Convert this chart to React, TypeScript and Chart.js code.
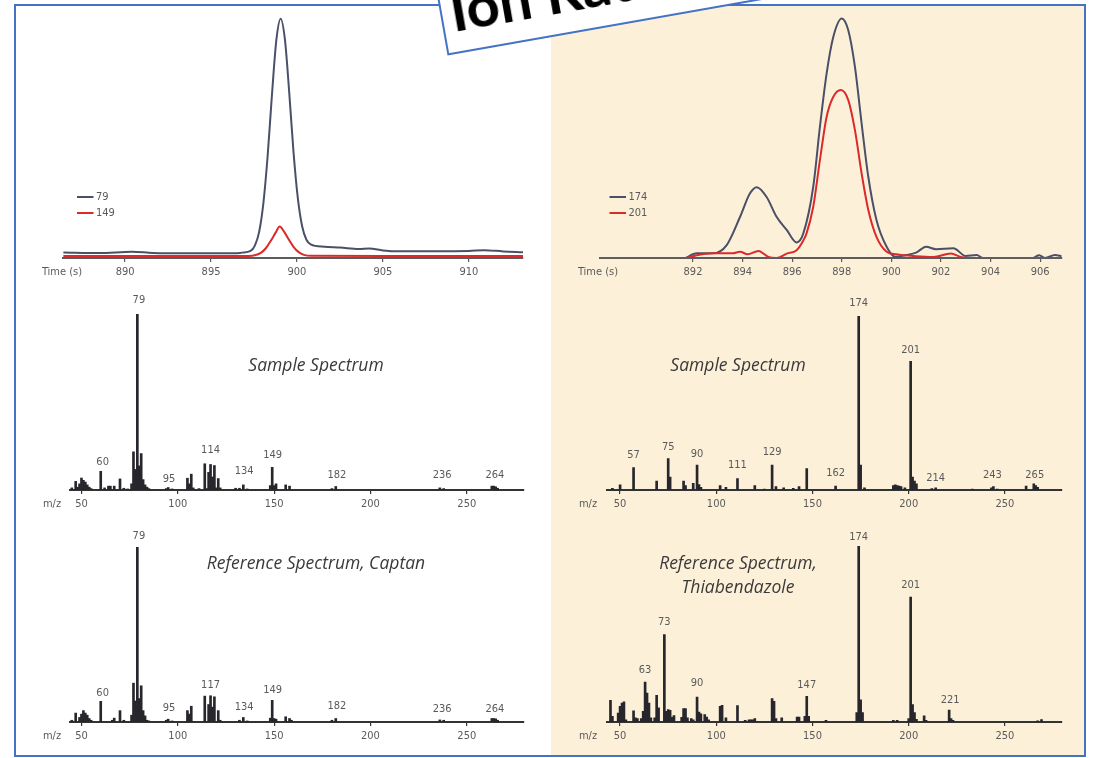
import React, { useEffect, useRef } from 'react';
import { Chart, registerables } from 'chart.js';

Chart.register(...registerables);

const AXIS_FONT = '"Liberation Sans Narrow", "DejaVu Sans Condensed", "Roboto Condensed", "Liberation Sans", sans-serif';
const TITLE_FONT = '"Open Sans", "Lato", "Liberation Sans", sans-serif';

// ---------- Chromatogram: Captan (ions 79 / 149) ----------
const captanTimeTicks = [890, 895, 900, 905, 910];
const ion79Time = [886.4, 888.5, 890.4, 891.6, 893.6, 896.4, 896.8, 897.3, 897.55, 897.8, 898.05, 898.3, 898.55, 898.8, 899.05, 899.3, 899.55, 899.8, 900.05, 900.3, 900.55, 900.8, 901.6, 902.5, 903.6, 904.2, 905.0, 905.6, 908.0, 910.0, 910.9, 912.0, 913.15];
const ion79Value = [2.3, 2.0, 2.6, 2.1, 1.9, 1.9, 2.2, 2.9, 5.1, 10.7, 22.7, 42.4, 67.4, 89.3, 98.1, 89.5, 67.8, 43.3, 24.5, 13.0, 7.5, 5.6, 4.6, 4.3, 3.7, 3.9, 3.1, 2.8, 2.8, 2.9, 3.2, 2.7, 2.4];
const ion149Time = [886.4, 890, 895, 897.2, 897.6, 897.9, 898.2, 898.5, 898.75, 899.0, 899.25, 899.5, 899.8, 900.1, 900.4, 900.8, 905, 913.15];
const ion149Value = [0.8, 0.8, 0.8, 0.8, 1.2, 2.1, 4.1, 7.3, 10.3, 12.9, 10.8, 7.9, 4.6, 2.4, 1.3, 0.9, 0.8, 0.8];

// ---------- Chromatogram: Thiabendazole (ions 174 / 201) ----------
const thiaTimeTicks = [892, 894, 896, 898, 900, 902, 904, 906];
const ion174Time = [891.7, 892.15, 892.8, 893.36, 893.9, 894.3, 894.57, 894.97, 895.37, 895.78, 896.18, 896.45, 896.85, 897.12, 897.39, 897.66, 898.0, 898.26, 898.53, 898.8, 899.07, 899.4, 899.81, 900.15, 900.6, 901.0, 901.4, 901.8, 902.5, 903.0, 903.44, 903.7, 905.7, 905.96, 906.2, 906.6, 906.87];
const ion174Value = [0, 1.9, 1.9, 5.3, 16.9, 26.5, 29.0, 25.0, 16.9, 11.5, 6.4, 10.1, 29.2, 53.8, 75.7, 90.7, 98.2, 93.4, 78.4, 55.2, 33.3, 15.6, 4.6, 0.5, 1.2, 2.2, 4.6, 3.6, 4.0, 0.8, 1.2, 0, 0, 1.1, 0, 1.2, 0.7];
const ion201Time = [888.25, 891.7, 892.15, 892.8, 893.6, 893.9, 894.2, 894.64, 895.04, 895.37, 895.78, 896.18, 896.45, 896.58, 896.85, 897.12, 897.39, 897.66, 897.96, 898.26, 898.53, 898.8, 899.07, 899.4, 899.81, 900.2, 901.0, 901.7, 902.4, 902.8, 903.1, 906.87];
const ion201Value = [0, 0, 1.1, 1.9, 1.9, 2.6, 1.5, 2.9, 0.4, 0, 1.8, 3.2, 7.2, 10.1, 21, 40.2, 57.9, 66.1, 68.9, 64.8, 52.5, 34.7, 19.7, 8.7, 2.6, 1.5, 0.7, 0.4, 1.8, 0.4, 0, 0];

// ---------- Spectra ----------
const mzTicks = [50, 100, 150, 200, 250];

const captanSampleMz = [45, 47, 48, 49, 50, 51, 52, 53, 54, 55, 60, 62, 64, 65, 67, 70, 72, 74, 76, 77, 78, 79, 80, 81, 82, 83, 84, 85, 94, 95, 97, 105, 106, 107, 108, 111, 114, 115, 116, 117, 118, 119, 120, 121, 122, 130, 132, 134, 136, 148, 149, 150, 151, 156, 158, 180, 182, 236, 238, 263, 264, 265, 266];
const captanSampleInt = [1.2, 4.9, 1.6, 3.5, 6.8, 5.5, 4.5, 2.9, 1.6, 0.8, 10.6, 1.2, 2.2, 2.2, 2.2, 6.3, 1, 0.6, 3.5, 21.7, 11.7, 100, 13.7, 20.7, 5.9, 2.9, 1.6, 0.8, 0.8, 1.4, 0.6, 6.7, 3.5, 9, 1.2, 0.8, 14.9, 0.8, 10, 14.5, 7.4, 13.9, 1.2, 6.5, 1.2, 1, 1, 2.9, 0.6, 2.5, 12.9, 2.5, 3.5, 2.9, 2.2, 0.8, 2, 1.2, 0.8, 2.2, 2.2, 1.8, 1];
const captanSampleLabels = ['79', '60', '95', '114', '134', '149', '182', '236', '264'];
const captanSampleLabelMz = [79.8, 61, 95.4, 117, 134.4, 149.2, 182.6, 237.2, 264.6];
const captanSampleLabelLevel = [108, 16.1, 6.3, 22.7, 10.8, 19.9, 8.6, 8.6, 8.6];

const captanRefMz = [45, 47, 49, 50, 51, 52, 53, 54, 55, 60, 66, 67, 70, 72, 76, 77, 78, 79, 80, 81, 82, 83, 84, 85, 94, 95, 97, 105, 106, 107, 114, 116, 117, 118, 119, 121, 122, 132, 134, 136, 148, 149, 150, 151, 156, 158, 159, 180, 182, 236, 238, 263, 264, 265, 266];
const captanRefInt = [1, 5.1, 2.6, 4.5, 6.5, 5.1, 3.9, 2, 1, 11.8, 1, 2.2, 6.5, 1, 3.9, 22.2, 12, 100, 13.4, 20.7, 6.5, 3.5, 1, 0.6, 1, 1.6, 0.6, 6.5, 4.5, 9, 14.8, 10, 15, 8.5, 14.4, 6.5, 1, 1, 2.6, 0.6, 2.2, 12.4, 2, 1.6, 3, 2, 1, 1, 2, 1.2, 1, 2, 2, 1.8, 1];
const captanRefLabels = ['79', '60', '95', '117', '134', '149', '182', '236', '264'];
const captanRefLabelMz = [79.8, 61, 95.4, 117, 134.4, 149.2, 182.6, 237.2, 264.6];
const captanRefLabelLevel = [106.3, 16.7, 8, 21.3, 8.3, 18.1, 9.3, 7.3, 7.3];

const thiaSampleMz = [46, 50, 57, 69, 75, 76, 83, 84, 88, 90, 91, 92, 102, 105, 111, 120, 125, 129, 131, 135, 140, 143, 147, 162, 174, 175, 177, 192, 193, 194, 195, 196, 198, 201, 202, 203, 204, 212, 214, 233, 243, 244, 246, 261, 265, 266, 267];
const thiaSampleInt = [1, 2.9, 12.9, 5.1, 18, 7.4, 5.1, 2.5, 3.9, 14.3, 3.1, 1.6, 2.5, 1.6, 6.5, 2.5, 0.6, 14.3, 2, 1.2, 1, 2, 12.3, 2.2, 100, 14.3, 1.2, 2.5, 2.9, 2.5, 2.2, 2, 1.2, 74, 7.4, 5.1, 3.5, 0.8, 1.2, 0.6, 1.2, 2, 0.6, 2.2, 3.5, 2.5, 1.6];
const thiaSampleLabels = ['174', '201', '57', '75', '90', '111', '129', '162', '214', '243', '265'];
const thiaSampleLabelMz = [174, 201, 57, 75, 90, 111, 129, 162, 214, 243.5, 265.5];
const thiaSampleLabelLevel = [107.5, 80.2, 20.2, 24.7, 20.8, 14, 21.6, 9.9, 6.9, 8.5, 8.5];

const thiaRefMz = [45, 46, 49, 50, 51, 52, 53, 57, 58, 59, 61, 62, 63, 64, 65, 66, 68, 69, 70, 73, 74, 75, 76, 77, 78, 82, 83, 84, 85, 87, 88, 90, 91, 92, 94, 95, 96, 102, 103, 105, 111, 115, 117, 118, 119, 120, 129, 130, 131, 134, 142, 143, 146, 147, 148, 157, 173, 174, 175, 176, 192, 194, 200, 201, 202, 203, 204, 208, 209, 221, 222, 223, 267, 269];
const thiaRefInt = [12.3, 3.2, 5.1, 8.9, 10.8, 11.4, 1.3, 6.4, 2.3, 1.9, 1.9, 6, 22.7, 16.5, 10.8, 2.3, 2.3, 15.2, 8, 49.6, 6, 7, 6.6, 2.7, 3.6, 2.7, 7.6, 7.6, 2.3, 1.9, 1.3, 14.2, 5.7, 4.7, 4.2, 2.8, 1.3, 8.9, 9.5, 2.3, 9.3, 0.9, 1.2, 1.2, 1.2, 1.9, 13.3, 11.7, 1.9, 2.3, 2.8, 2.8, 3.2, 14.6, 3.2, 0.9, 5.4, 100, 12.6, 5.4, 1, 1, 2, 71, 9.9, 5.4, 1.5, 3.5, 1, 6.8, 1.9, 1, 0.6, 1.4];
const thiaRefLabels = ['174', '201', '73', '63', '90', '147', '221'];
const thiaRefLabelMz = [174, 201, 73, 63, 90, 147, 221.5];
const thiaRefLabelLevel = [105, 77.8, 57, 29.5, 22, 21, 12.2];

const COLOR_BLUE = '#4b5068';
const COLOR_RED = '#dc2a2a';
const COLOR_BAR = '#26262c';
const COLOR_TEXT = '#5a5a5a';

function toPoints(xs: number[], ys: number[]) {
  return xs.map((x, i) => ({ x, y: ys[i] }));
}

function xAxis(min: number, max: number, ticks: number[], axisHeight: number, lineColor: string) {
  return {
    type: 'linear',
    min,
    max,
    offset: false,
    afterBuildTicks: (s: any) => {
      s.ticks = ticks.map((v) => ({ value: v }));
    },
    afterFit: (s: any) => {
      s.height = axisHeight;
    },
    grid: { display: true, drawOnChartArea: false, drawTicks: true, tickLength: 4, color: lineColor, lineWidth: 1.2, offset: false },
    border: { display: true, color: lineColor, width: 2 },
    ticks: {
      color: COLOR_TEXT,
      font: { family: AXIS_FONT, size: 11 },
      padding: 4,
      maxRotation: 0,
      autoSkip: false,
      callback: (v: any) => String(v),
    },
  };
}

type ChromSpec = {
  min: number;
  max: number;
  ticks: number[];
  series: { label: string; color: string; t: number[]; v: number[] }[];
  padRight: number;
  padLeft: number;
  legendX: number;
};

function chromConfig(spec: ChromSpec) {
  const plugin = {
    id: 'chromDecor',
    afterDraw(chart: any) {
      const ctx = chart.ctx;
      const xs = chart.scales.x;
      ctx.save();
      ctx.font = `11px ${AXIS_FONT}`;
      ctx.fillStyle = COLOR_TEXT;
      ctx.textAlign = 'center';
      ctx.textBaseline = 'middle';
      ctx.fillText('Time (s)', 46, xs.top + 14);
      const order = [spec.series[1], spec.series[0]];
      order.forEach((s, i) => {
        const y = 189 + i * 16;
        ctx.strokeStyle = s.color;
        ctx.lineWidth = 2;
        ctx.beginPath();
        ctx.moveTo(spec.legendX, y);
        ctx.lineTo(spec.legendX + 16.5, y);
        ctx.stroke();
        ctx.textAlign = 'left';
        ctx.fillText(s.label, spec.legendX + 19, y);
      });
      ctx.restore();
    },
  };
  return {
    type: 'line',
    data: {
      datasets: spec.series.map((s) => ({
        label: s.label,
        data: toPoints(s.t, s.v),
        borderColor: s.color,
        borderWidth: 2,
        pointRadius: 0,
        fill: false,
        cubicInterpolationMode: 'monotone',
      })),
    },
    options: {
      responsive: false,
      animation: false,
      events: [],
      layout: { padding: { left: spec.padLeft, right: spec.padRight, top: 6, bottom: 0 } },
      plugins: { legend: { display: false }, tooltip: { enabled: false } },
      scales: {
        x: xAxis(spec.min, spec.max, spec.ticks, 27, '#5c5c5c'),
        y: { display: false, min: 0, max: 100 },
      },
    },
    plugins: [plugin],
  };
}

type SpecSpec = {
  min: number;
  max: number;
  mz: number[];
  int: number[];
  labels: string[];
  labelMz: number[];
  labelLevel: number[];
  title: string[];
  titleX: number;
  titleY: number;
  padLeft: number;
  padRight: number;
  padTop: number;
  axisHeight: number;
};

function spectrumConfig(spec: SpecSpec) {
  const plugin = {
    id: 'specDecor',
    afterDraw(chart: any) {
      const ctx = chart.ctx;
      const xs = chart.scales.x;
      const ys = chart.scales.y;
      ctx.save();
      ctx.font = `11px ${AXIS_FONT}`;
      ctx.fillStyle = COLOR_TEXT;
      ctx.textAlign = 'center';
      ctx.textBaseline = 'middle';
      spec.labels.forEach((txt, i) => {
        ctx.fillText(txt, xs.getPixelForValue(spec.labelMz[i]), ys.getPixelForValue(spec.labelLevel[i]));
      });
      ctx.fillText('m/z', 36, xs.top + 14);
      ctx.font = `italic 17.5px ${TITLE_FONT}`;
      ctx.fillStyle = '#3a3a3a';
      spec.title.forEach((line, i) => {
        ctx.fillText(line, spec.titleX, spec.titleY + i * 24);
      });
      ctx.restore();
    },
  };
  return {
    type: 'bar',
    data: {
      datasets: [
        {
          data: toPoints(spec.mz, spec.int),
          backgroundColor: COLOR_BAR,
          borderWidth: 0,
          barThickness: 2,
        },
      ],
    },
    options: {
      responsive: false,
      animation: false,
      events: [],
      layout: { padding: { left: spec.padLeft, right: spec.padRight, top: spec.padTop, bottom: 0 } },
      plugins: { legend: { display: false }, tooltip: { enabled: false } },
      scales: {
        x: xAxis(spec.min, spec.max, mzTicks, spec.axisHeight, '#333333'),
        y: { display: false, min: 0, max: 100 },
      },
    },
    plugins: [plugin],
  };
}

function ChartBox({ left, top, width, height, config }: { left: number; top: number; width: number; height: number; config: () => any }) {
  const ref = useRef<HTMLCanvasElement>(null);
  useEffect(() => {
    const chart = new Chart(ref.current as HTMLCanvasElement, config());
    return () => chart.destroy();
  }, []);
  return (
    <div style={{ position: 'absolute', left, top, width, height }}>
      <canvas ref={ref} width={width} height={height} style={{ width, height, display: 'block' }} />
    </div>
  );
}

export default function App() {
  return (
    <div style={{ position: 'absolute', left: 0, top: 0, width: 1094, height: 758, overflow: 'hidden', background: '#fff' }}>
      <div style={{ position: 'absolute', left: 551, top: 5, width: 533, height: 750, background: '#fdf0d9' }} />
      <div style={{ position: 'absolute', left: 14, top: 4, width: 1072, height: 753, border: '2px solid #4472c4', boxSizing: 'border-box' }} />

      <ChartBox
        left={16}
        top={8}
        width={534}
        height={277}
        config={() =>
          chromConfig({
            min: 886.4,
            max: 913.15,
            ticks: captanTimeTicks,
            series: [
              { label: '149', color: COLOR_RED, t: ion149Time, v: ion149Value },
              { label: '79', color: COLOR_BLUE, t: ion79Time, v: ion79Value },
            ],
            padLeft: 47.2,
            padRight: 27,
            legendX: 61,
          })
        }
      />
      <ChartBox
        left={552}
        top={8}
        width={532}
        height={277}
        config={() =>
          chromConfig({
            min: 888.25,
            max: 906.87,
            ticks: thiaTimeTicks,
            series: [
              { label: '201', color: COLOR_RED, t: ion201Time, v: ion201Value },
              { label: '174', color: COLOR_BLUE, t: ion174Time, v: ion174Value },
            ],
            padLeft: 48,
            padRight: 22.3,
            legendX: 57.5,
          })
        }
      />

      <ChartBox
        left={16}
        top={290}
        width={534}
        height={225}
        config={() =>
          spectrumConfig({
            min: 44.1,
            max: 279.7,
            mz: captanSampleMz,
            int: captanSampleInt,
            labels: captanSampleLabels,
            labelMz: captanSampleLabelMz,
            labelLevel: captanSampleLabelLevel,
            title: ['Sample Spectrum'],
            titleX: 300,
            titleY: 76,
            padLeft: 54.1,
            padRight: 26,
            padTop: 24,
            axisHeight: 25,
          })
        }
      />
      <ChartBox
        left={552}
        top={290}
        width={532}
        height={225}
        config={() =>
          spectrumConfig({
            min: 43.3,
            max: 279.6,
            mz: thiaSampleMz,
            int: thiaSampleInt,
            labels: thiaSampleLabels,
            labelMz: thiaSampleLabelMz,
            labelLevel: thiaSampleLabelLevel,
            title: ['Sample Spectrum'],
            titleX: 186,
            titleY: 76,
            padLeft: 55.2,
            padRight: 22.1,
            padTop: 26,
            axisHeight: 25,
          })
        }
      />
      <ChartBox
        left={16}
        top={520}
        width={534}
        height={232}
        config={() =>
          spectrumConfig({
            min: 44.1,
            max: 279.7,
            mz: captanRefMz,
            int: captanRefInt,
            labels: captanRefLabels,
            labelMz: captanRefLabelMz,
            labelLevel: captanRefLabelLevel,
            title: ['Reference Spectrum, Captan'],
            titleX: 300,
            titleY: 44,
            padLeft: 54.1,
            padRight: 26,
            padTop: 27,
            axisHeight: 30,
          })
        }
      />
      <ChartBox
        left={552}
        top={520}
        width={532}
        height={232}
        config={() =>
          spectrumConfig({
            min: 43.3,
            max: 279.6,
            mz: thiaRefMz,
            int: thiaRefInt,
            labels: thiaRefLabels,
            labelMz: thiaRefLabelMz,
            labelLevel: thiaRefLabelLevel,
            title: ['Reference Spectrum,', 'Thiabendazole'],
            titleX: 186,
            titleY: 44,
            padLeft: 55.2,
            padRight: 22.1,
            padTop: 26,
            axisHeight: 30,
          })
        }
      />

      <svg width={1094} height={140} style={{ position: 'absolute', left: 0, top: 0, overflow: 'visible', zIndex: 5 }}>
        <g transform="translate(448.3 54.3) rotate(-10)">
          <rect x={0} y={-120} width={440} height={120} fill="#ffffff" stroke="#4472c4" strokeWidth={2} />
          <text x={9} y={-21} fontFamily='Lato, "Open Sans", "Liberation Sans", sans-serif' fontWeight={700} fontSize={58} fill="#000">
            Ion Ratios
          </text>
        </g>
      </svg>
    </div>
  );
}
